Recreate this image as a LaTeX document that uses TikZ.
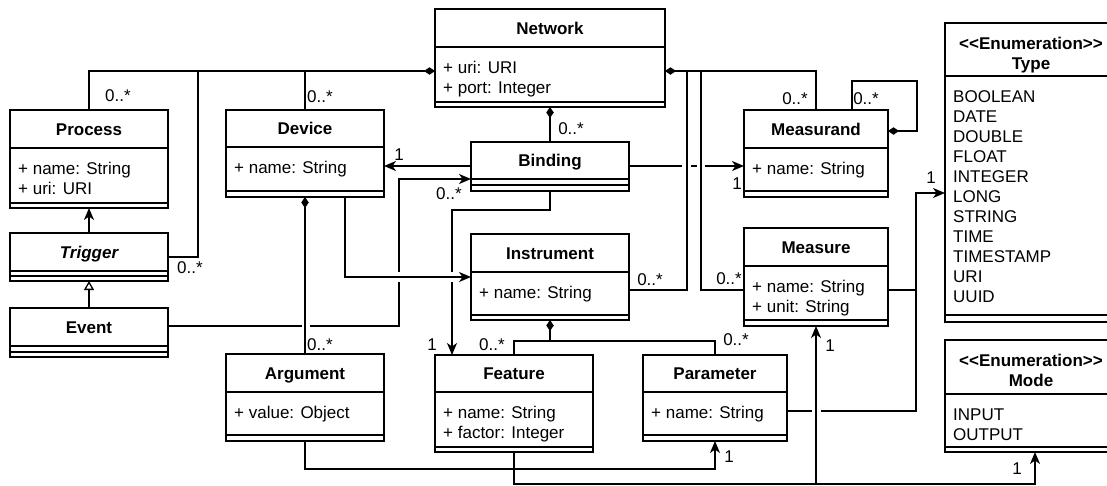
\documentclass[tikz,border=0pt]{standalone}
\usepackage{fontspec}
\setmainfont{Liberation Sans}
\usetikzlibrary{arrows.meta}
\newcommand\umlbox[8]{% name, x1, y1, x2, y2, header bottom, attr bottom, title
  \node[box, anchor=north west, minimum width={#4-#2}, minimum height={#5-#3}] (#1) at (#2,#3) {};
  \draw[ln] (#2,#6) -- (#4,#6);
  \draw[ln] (#2,#7) -- (#4,#7);
  \node[ttl] (#1-t) at ({(#2+#4)/2},{(#3+#6)/2}) {#8};
}
\newcommand\umlattrs[4]{% name, x1, header bottom, list
  \foreach \txt [count=\i] in {#4} {\node[attr, anchor=base west] (#1-a\i) at (#2+8,#3+26+20*\i-20) {\txt};}
}
\begin{document}
\begin{tikzpicture}[x=1pt,y=-1pt,
  ln/.style={line width=1.3pt, draw=black},
  box/.style={ln, rectangle, inner sep=0pt, outer sep=0pt, fill=white},
  ttl/.style={font=\fontsize{17}{20}\selectfont\bfseries, inner sep=0pt, text height=12.2pt, text depth=0pt, align=center},
  attr/.style={font=\fontsize{17}{20}\selectfont, inner sep=0pt},
  mult/.style={font=\fontsize{17}{20}\selectfont, inner sep=0pt, text height=12.2pt, text depth=0pt},
  conn/.style={ln},
  nav/.style={conn, -{Stealth[length=12pt,width=10pt,inset=3.5pt]}},
  comp/.style={conn, {Diamond[length=11pt,width=7.5pt]}-},
  gen/.style={conn, -{Triangle[open,length=9pt,width=10pt,fill=white]}},
]
\useasboundingbox (0,0) rectangle (1107,485);
\clip (0,0) rectangle (1107,485);

% ---------- classes ----------
\umlbox{net}{435}{9}{665}{107}{47}{102}{Network}
\umlattrs{net}{435}{47}{+ uri: URI, + port: Integer}
\umlbox{proc}{10}{110}{168}{208}{148}{203}{Process}
\umlattrs{proc}{10}{148}{+ name: String, + uri: URI}
\umlbox{trig}{10}{233}{168}{281}{271}{276}{\itshape Trigger}
\umlbox{event}{10}{308}{168}{357}{346}{352}{Event}
\umlbox{dev}{226}{110}{384}{197}{147}{191}{Device}
\umlattrs{dev}{226}{147}{+ name: String}
\umlbox{bind}{471}{142}{629}{191}{179}{185}{Binding}
\umlbox{inst}{471}{234}{629}{320}{272}{315}{Instrument}
\umlattrs{inst}{471}{272}{+ name: String}
\umlbox{meand}{744}{110}{888}{197}{148}{191}{Measurand}
\umlattrs{meand}{744}{148}{+ name: String}
\umlbox{meas}{744}{228}{888}{326}{266}{320}{Measure}
\umlattrs{meas}{744}{266}{+ name: String, + unit: String}
\umlbox{arg}{226}{354}{384}{441}{392}{435}{Argument}
\umlattrs{arg}{226}{392}{+ value: Object}
\umlbox{feat}{435}{355}{593}{452}{392}{447}{Feature}
\umlattrs{feat}{435}{392}{+ name: String, + factor: Integer}
\umlbox{param}{643}{355}{787}{441}{392}{435}{Parameter}
\umlattrs{param}{643}{392}{+ name: String}

% enumerations
\node[box, anchor=north west, minimum width=172, minimum height=299] (type) at (945,23) {};
\draw[ln] (945,76) -- (1117,76);
\draw[ln] (945,315) -- (1117,315);
\node[ttl] (type-s) at (1031,43) {<{}<Enumeration>{}>};
\node[ttl] (type-t) at (1031,63) {Type};
\umlattrs{type}{945}{76}{BOOLEAN, DATE, DOUBLE, FLOAT, INTEGER, LONG, STRING, TIME, TIMESTAMP, URI, UUID}

\node[box, anchor=north west, minimum width=172, minimum height=112] (mode) at (945,340) {};
\draw[ln] (945,394) -- (1117,394);
\draw[ln] (945,447) -- (1117,447);
\node[ttl] (mode-s) at (1031,360) {<{}<Enumeration>{}>};
\node[ttl] (mode-t) at (1031,380) {Mode};
\umlattrs{mode}{945}{394}{INPUT, OUTPUT}

% ---------- helper coordinates ----------
\coordinate (nl) at (0,71);
\coordinate (tj) at (198,71);
\coordinate (v687) at (687,71);
\coordinate (v701) at (701,71);
\coordinate (r290) at (0,290);
\coordinate (r166) at (0,166);
\coordinate (r179) at (0,179);
\coordinate (r326) at (0,326);
\coordinate (cj) at (550,341);
\coordinate (ap) at (0,469);
\coordinate (fb) at (0,484);

% ---------- connectors ----------
\draw[comp] (net.west |- nl) -| (proc.north);
\draw[conn] (dev.north) -- (dev.north |- nl);
\draw[conn] (trig.east) -| (tj);
\draw[comp] (net.south) -- (bind.north);
\draw[comp] (net.east |- nl) -| (meand.north);
\draw[conn] (inst.east |- r290) -| (v687);
\draw[conn] (meas.west |- r290) -| (v701);
\draw[comp] (meand.east |- 0,131) -| (917,81) -| (meand.north -| 852,0);
\draw[nav] (bind.west |- r166) -- (dev.east |- r166);
\draw[nav] (bind.east |- r166) -- (682,166) (691,166) -- (697,166) (705,166) -- (meand.west |- r166);
\draw[nav] (event.east |- r326) -- (302,326) (310,326) -- (399,326) -- (399,282) (399,272) |- (bind.west |- r179);
\draw[nav] (bind.south) |- (452,210) -- (452,272) (452,282) -- (feat.north -| 452,0);
\draw[nav] (dev.south -| 345,0) |- (inst.west);
\draw[comp] (dev.south) -- (arg.north);
\draw[comp] (inst.south) -- (cj);
\draw[conn] (feat.north) |- (cj) -| (param.north);
\draw[nav] (arg.south) |- (param.south |- ap) -- (param.south);
\draw[nav] (feat.south) |- (meas.south |- fb) -- (meas.south);
\draw[nav] (meas.south |- fb) -| ([xshift=4pt]mode.south);
\draw[nav] (meas.east |- r290) -| (916,193) -- (type.west |- 0,193);
\draw[conn] (param.east |- 0,411) -- (812,411) (821,411) -| (916,290);
\draw[nav] (trig.north) -- (proc.south);
\draw[gen] (event.north) -- (trig.south);

% ---------- multiplicities ----------
\node[mult] (m1) at (118,95) {0..*};
\node[mult] (m2) at (190,267) {0..*};
\node[mult] (m3) at (320,96) {0..*};
\node[mult] (m4) at (571,128) {0..*};
\node[mult] (m5) at (399,154) {1};
\node[mult] (m6) at (449,193) {0..*};
\node[mult] (m7) at (737,183) {1};
\node[mult] (m8) at (795,98) {0..*};
\node[mult] (m9) at (866,98) {0..*};
\node[mult] (m10) at (931,177) {1};
\node[mult] (m11) at (650,279) {0..*};
\node[mult] (m12) at (729,278) {0..*};
\node[mult] (m13) at (432,344) {1};
\node[mult] (m14) at (492,344) {0..*};
\node[mult] (m15) at (736,339) {0..*};
\node[mult] (m16) at (320,344) {0..*};
\node[mult] (m17) at (729,456) {1};
\node[mult] (m18) at (830,345) {1};
\node[mult] (m19) at (1017,468) {1};
\end{tikzpicture}
\end{document}
